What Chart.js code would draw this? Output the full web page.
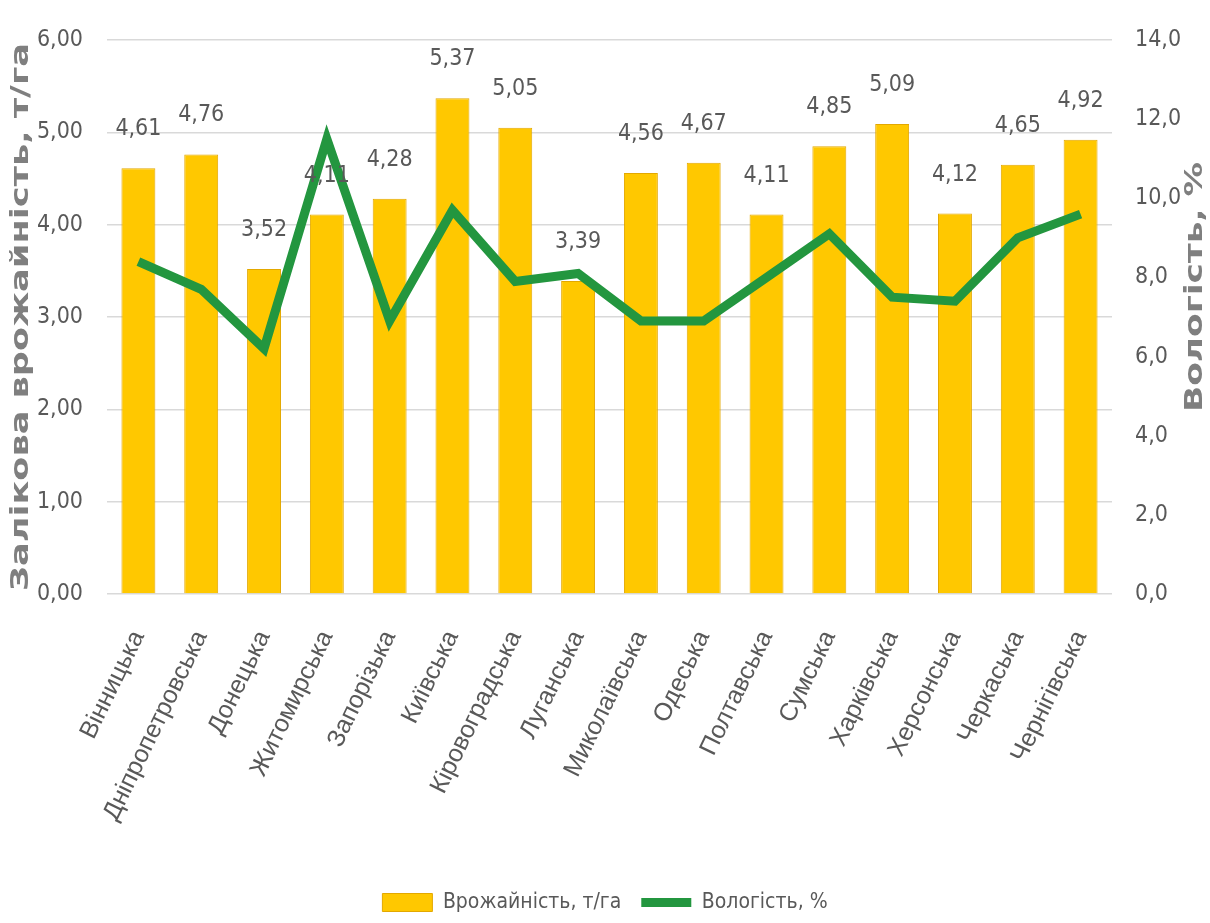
<!DOCTYPE html>
<html>
<head>
<meta charset="utf-8">
<script src="https://cdn.jsdelivr.net/npm/chart.js@4/dist/chart.umd.min.js"></script>
<style>
  html, body { margin: 0; padding: 0; background: #fff; }
  #wrap { width: 1210px; height: 923px; }
</style>
</head>
<body>
<div id="wrap"><canvas id="chart" width="1210" height="923"></canvas></div>
<script>
// Regions
const regions = ["Вінницька", "Дніпропетровська", "Донецька", "Житомирська", "Запорізька", "Київська",
  "Кіровоградська", "Луганська", "Миколаївська", "Одеська", "Полтавська", "Сумська",
  "Харківська", "Херсонська", "Черкаська", "Чернігівська"]

// Yield, t/ha (bars, left axis)
const yieldValues = [4.61, 4.76, 3.52, 4.11, 4.28, 5.37, 5.05, 3.39, 4.56, 4.67, 4.11, 4.85, 5.09, 4.12, 4.65, 4.92]

// Moisture, % (line, right axis)
const moistureValues = [8.4, 7.7, 6.2, 11.5, 6.9, 9.7, 7.9, 8.1, 6.9, 6.9, 8.0, 9.1, 7.5, 7.4, 9.0, 9.6]

const seriesNames = ["Врожайність, т/га", "Вологість, %"]
const axisTitles = ["Залікова врожайність, т/га", "Вологість, %"]

const narrow = "'Liberation Sans Narrow', 'DejaVu Sans Condensed', 'Liberation Sans', sans-serif"
const textGrey = "#595959"

const fmt = (v, d) => v.toFixed(d).replace(".", ",")

// value labels above the bars
const barLabels = {
  id: "barLabels",
  afterDatasetsDraw(chart) {
    const ctx = chart.ctx
    const meta = chart.getDatasetMeta(1)
    ctx.save()
    ctx.font = "23px " + narrow
    ctx.fillStyle = textGrey
    ctx.textAlign = "center"
    ctx.textBaseline = "alphabetic"
    meta.data.forEach((bar, i) => {
      ctx.fillText(fmt(yieldValues[i], 2), bar.x, bar.y - 33)
    })
    ctx.restore()
  },
}

// rotated axis titles (both read bottom to top)
const axisTitlePlugin = {
  id: "axisTitlePlugin",
  afterDraw(chart) {
    const ctx = chart.ctx
    const area = chart.chartArea
    const drawTitle = (text, x, y, len) => {
      ctx.save()
      ctx.translate(x, y)
      ctx.rotate(-Math.PI / 2)
      ctx.font = "bold 24px 'DejaVu Sans', sans-serif"
      const w = ctx.measureText(text).width
      ctx.scale(len / w, 1)
      ctx.fillStyle = "#7f7f7f"
      ctx.textAlign = "center"
      ctx.textBaseline = "middle"
      ctx.fillText(text, 0, 0)
      ctx.restore()
    }
    drawTitle(axisTitles[0], 22, (area.top + area.bottom) / 2, 548)
    drawTitle(axisTitles[1], 1196, 287, 250)
  },
}

new Chart(document.getElementById("chart"), {
  data: {
    labels: regions,
    datasets: [
      {
        type: "line",
        label: seriesNames[1],
        data: moistureValues,
        yAxisID: "y1",
        borderColor: "#23963f",
        backgroundColor: "#23963f",
        borderWidth: 9,
        pointRadius: 0,
        tension: 0,
        pointStyle: "line",
        order: 0,
      },
      {
        type: "bar",
        label: seriesNames[0],
        data: yieldValues,
        yAxisID: "y",
        backgroundColor: "#FFC800",
        borderColor: "#E3A800",
        borderWidth: 1,
        categoryPercentage: 1,
        barPercentage: 0.54,
        pointStyle: "rect",
        order: 1,
      },
    ],
  },
  options: {
    responsive: false,
    animation: false,
    layout: { padding: { top: 40, left: 0, right: 0, bottom: 0 } },
    scales: {
      x: {
        grid: { display: false },
        border: { display: false },
        ticks: {
          color: textGrey,
          font: { size: 25, family: "'Liberation Sans', sans-serif" },
          minRotation: 64,
          maxRotation: 64,
          padding: 24,
        },
        afterFit(scale) { scale.height = 278 },
      },
      y: {
        position: "left",
        min: 0,
        max: 6,
        ticks: {
          stepSize: 1,
          color: textGrey,
          font: { size: 23, family: narrow },
          padding: 24,
          callback: (v) => fmt(v, 2),
        },
        grid: { color: "#d9d9d9", lineWidth: 1.5, drawTicks: false },
        border: { display: false },
        afterFit(scale) { scale.width = 107 },
      },
      y1: {
        position: "right",
        min: 0,
        max: 14,
        ticks: {
          stepSize: 2,
          color: textGrey,
          font: { size: 23, family: narrow },
          padding: 23,
          callback: (v) => fmt(v, 1),
        },
        grid: { drawOnChartArea: false, drawTicks: false },
        border: { display: false },
        afterFit(scale) { scale.width = 98 },
      },
    },
    plugins: {
      legend: {
        position: "bottom",
        reverse: true,
        labels: {
          color: textGrey,
          font: { size: 21, family: narrow },
          usePointStyle: true,
          pointStyleWidth: 50,
          boxHeight: 18,
          padding: 20,
        },
      },
      tooltip: { enabled: false },
    },
  },
  plugins: [barLabels, axisTitlePlugin],
})
</script>
</body>
</html>
